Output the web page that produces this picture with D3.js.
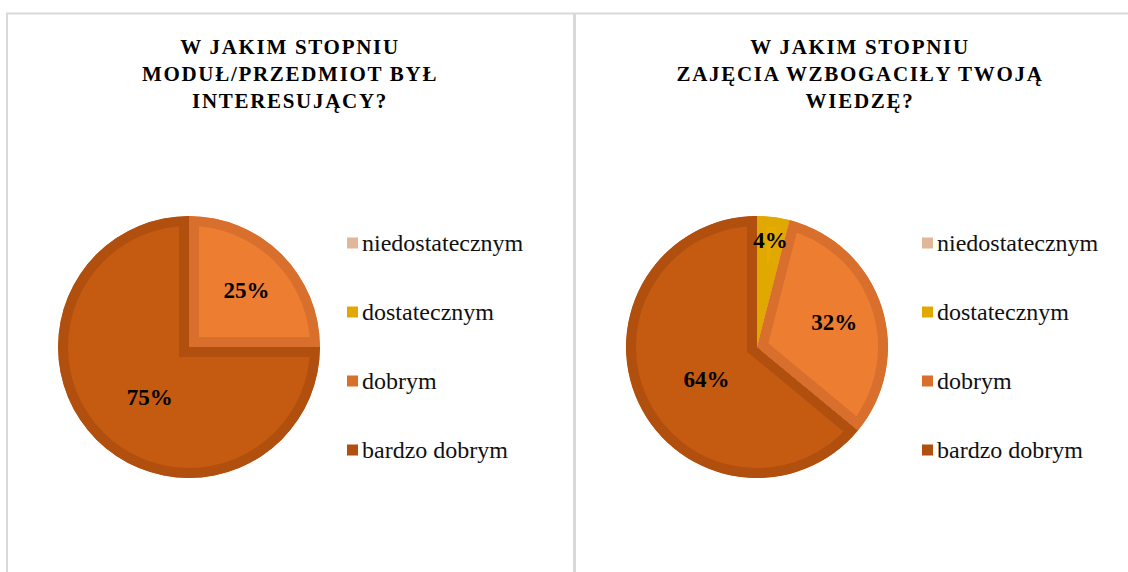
<!DOCTYPE html>
<html>
<head>
<meta charset="utf-8">
<script src="https://cdn.jsdelivr.net/npm/d3@7"></script>
<style>
  body { margin: 0; background: #fff; }
  svg { display: block; }
  text { font-family: "Liberation Serif", "Times New Roman", serif; }
</style>
</head>
<body>
<div id="chart"></div>
<script>
const categories = ['niedostatecznym', 'dostatecznym', 'dobrym', 'bardzo dobrym'];
const valuesLeft = [0, 0, 25, 75];
const valuesRight = [0, 4, 32, 64];
const titleLeft = ['W JAKIM STOPNIU', 'MODUŁ/PRZEDMIOT BYŁ', 'INTERESUJĄCY?'];
const titleRight = ['W JAKIM STOPNIU', 'ZAJĘCIA WZBOGACIŁY TWOJĄ', 'WIEDZĘ?'];

const fillColors = ['#E8BFA0', '#E6AC00', '#ED7D31', '#C55A11'];
const edgeColors = ['#E0B799', '#E0A800', '#D86F2D', '#B04F0E'];

const width = 1128;
const height = 572;

const svg = d3.select('#chart')
  .append('svg')
  .attr('width', width)
  .attr('height', height);

// panel borders
const border = svg.append('g').attr('stroke', '#D9D9D9').attr('fill', 'none');
border.append('line').attr('x1', 6).attr('x2', width).attr('y1', 13.5).attr('y2', 13.5).attr('stroke-width', 2);
border.append('line').attr('x1', 7).attr('x2', 7).attr('y1', 13).attr('y2', height).attr('stroke-width', 2);
border.append('line').attr('x1', 574.5).attr('x2', 574.5).attr('y1', 13).attr('y2', height).attr('stroke-width', 3);

const pie = d3.pie().sort(null).value(d => d);

function drawPanel(id, values, title, cx, titleX, legendX) {
  const g = svg.append('g');
  const r = 131;
  const cy = 347;

  g.append('text')
    .attr('x', titleX)
    .attr('y', 47)
    .attr('text-anchor', 'middle')
    .attr('font-weight', 'bold')
    .attr('font-size', 21)
    .attr('letter-spacing', 1.7)
    .selectAll('tspan')
    .data(title)
    .join('tspan')
    .attr('x', titleX)
    .attr('dy', (d, i) => i === 0 ? '0.35em' : 27)
    .text(d => d);

  const arcs = pie(values).filter(d => d.value > 0);
  const arc = d3.arc().innerRadius(0).outerRadius(r);

  const pg = g.append('g').attr('transform', `translate(${cx},${cy})`);

  arcs.forEach((d, i) => {
    const clipId = `${id}-clip-${i}`;
    pg.append('clipPath').attr('id', clipId)
      .append('path').attr('d', arc(d));
    pg.append('path')
      .attr('d', arc(d))
      .attr('fill', fillColors[d.index])
      .attr('stroke', edgeColors[d.index])
      .attr('stroke-width', 20)
      .attr('clip-path', `url(#${clipId})`);
  });

  pg.selectAll('text.lbl')
    .data(arcs)
    .join('text')
    .attr('class', 'lbl')
    .attr('transform', d => {
      const k = d.value < 10 ? 0.82 : (d.value > 50 ? 0.5 : 0.62);
      const a = d3.arc().innerRadius(r * k).outerRadius(r * k);
      const [x, y] = a.centroid(d);
      // big slices: label sits a bit lower, closer to the centre line
      return d.value > 50 ? `translate(${x * 0.85},${y + 4})` : `translate(${x},${y})`;
    })
    .attr('text-anchor', 'middle')
    .attr('dy', '0.35em')
    .attr('font-weight', 'bold')
    .attr('font-size', 23)
    .attr('fill', '#000')
    .text(d => d.value + '%');

  const lg = g.append('g');
  const item = lg.selectAll('g')
    .data(categories)
    .join('g')
    .attr('transform', (d, i) => `translate(${legendX},${243 + i * 69})`);
  item.append('rect')
    .attr('x', 0).attr('y', -5.5)
    .attr('width', 11).attr('height', 11)
    .attr('fill', (d, i) => edgeColors[i]);
  item.append('text')
    .attr('x', 15)
    .attr('dy', '0.35em')
    .attr('font-size', 24)
    .attr('fill', '#111')
    .text(d => d);
}

drawPanel('left', valuesLeft, titleLeft, 189, 290, 347);
drawPanel('right', valuesRight, titleRight, 757, 860, 922);
</script>
</body>
</html>
